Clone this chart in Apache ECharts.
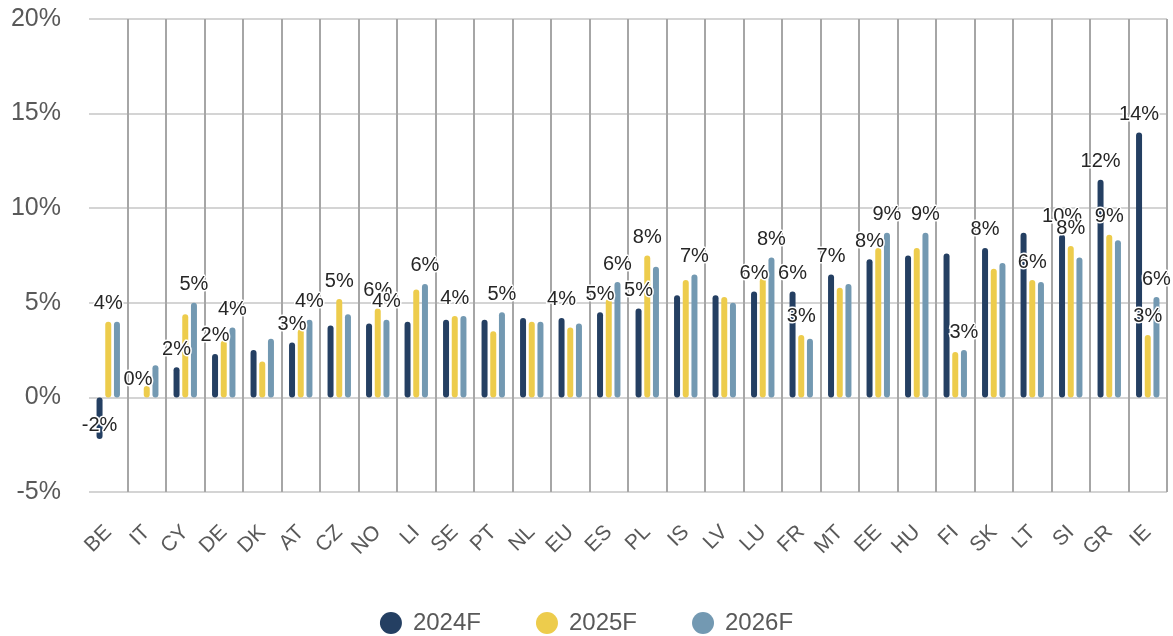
<!DOCTYPE html>
<html>
<head>
<meta charset="utf-8">
<script src="https://cdn.jsdelivr.net/npm/echarts@6/dist/echarts.min.js"></script>
<style>
  html, body { margin: 0; padding: 0; background: #fff; }
  #chart { width: 1173px; height: 636px; }
</style>
</head>
<body>
<div id="chart"></div>
<script>
	"use strict";

	/*---- data ----*/
	var countries = ['BE', 'IT', 'CY', 'DE', 'DK', 'AT', 'CZ', 'NO', 'LI', 'SE', 'PT', 'NL', 'EU', 'ES',
		'PL', 'IS', 'LV', 'LU', 'FR', 'MT', 'EE', 'HU', 'FI', 'SK', 'LT', 'SI', 'GR', 'IE'];

	var growth2024 = [-2.2, 0, 1.6, 2.3, 2.5, 2.9, 3.8, 3.9, 4.0, 4.1, 4.1, 4.2, 4.2, 4.5,
		4.7, 5.4, 5.4, 5.6, 5.6, 6.5, 7.3, 7.5, 7.6, 7.9, 8.7, 8.6, 11.5, 14.0];
	var growth2025 = [4.0, 0.6, 4.4, 3.0, 1.9, 3.6, 5.2, 4.7, 5.7, 4.3, 3.5, 4.0, 3.7, 5.2,
		7.5, 6.2, 5.3, 6.3, 3.3, 5.8, 7.9, 7.9, 2.4, 6.8, 6.2, 8.0, 8.6, 3.3];
	var growth2026 = [4.0, 1.7, 5.0, 3.7, 3.1, 4.1, 4.4, 4.1, 6.0, 4.3, 4.5, 4.0, 3.9, 6.1,
		6.9, 6.5, 5.0, 7.4, 3.1, 6.0, 8.7, 8.7, 2.5, 7.1, 6.1, 7.4, 8.3, 5.3];

	// data labels as printed on the chart ('' = not shown)
	var labels2024 = ['-2%', '0%', '2%', '2%', '', '3%', '', '', '', '', '', '', '4%', '5%',
		'5%', '', '', '6%', '6%', '7%', '8%', '', '', '8%', '', '10%', '12%', '14%'];
	var labels2025 = ['4%', '', '', '', '', '', '5%', '6%', '', '4%', '', '', '', '',
		'8%', '', '', '', '3%', '', '', '', '', '', '6%', '8%', '9%', '3%'];
	var labels2026 = ['', '', '5%', '4%', '', '4%', '', '4%', '6%', '', '5%', '', '', '6%',
		'', '7%', '', '8%', '', '', '9%', '9%', '3%', '', '', '', '', '6%'];

	var yTicks = { min: -5, max: 20, step: 5 };
	/*---- data ----*/

	function makeSeries(name, values, labels, color) {
		return {
			name: name,
			type: 'bar',
			barWidth: 6,
			barGap: '45%',
			data: values.map(function (v) {
				var item = { value: v };
				if (v < 0) {
					item.label = { position: 'insideBottom', distance: 4 };
				}
				return item;
			}),
			itemStyle: {
				color: color,
				borderRadius: 3
			},
			label: {
				show: true,
				position: 'top',
				distance: 8,
				fontFamily: 'Liberation Sans, Arial, sans-serif',
				fontSize: 20,
				color: '#262626',
				textBorderColor: '#fff',
				textBorderWidth: 3,
				formatter: function (p) {
					return labels[p.dataIndex];
				}
			}
		};
	}

	var chart = echarts.init(document.getElementById('chart'));

	var option = {
		animation: false,
		textStyle: { fontFamily: 'Liberation Sans, Arial, sans-serif' },
		grid: {
			left: 89,
			right: 6,
			top: 19,
			bottom: 144
		},
		legend: {
			top: 611,
			left: 'center',
			padding: 0,
			icon: 'circle',
			itemWidth: 22,
			itemHeight: 22,
			itemGap: 55,
			textStyle: {
				fontSize: 24,
				color: '#595959',
				padding: [0, 0, 0, 6]
			},
			data: ['2024F', '2025F', '2026F']
		},
		xAxis: {
			type: 'category',
			data: countries,
			axisLine: { show: false, onZero: false },
			axisTick: { show: false },
			axisLabel: {
				rotate: 45,
				margin: 37,
				fontSize: 21,
				color: '#595959',
				interval: 0
			},
			splitLine: {
				show: true,
				interval: function (index) { return index > 0; },
				lineStyle: { color: '#a6a6a6', width: 2 }
			}
		},
		yAxis: {
			type: 'value',
			min: yTicks.min,
			max: yTicks.max,
			interval: yTicks.step,
			axisLine: { show: false },
			axisTick: { show: false },
			axisLabel: {
				formatter: '{value}%',
				fontSize: 25,
				margin: 28,
				color: '#595959'
			},
			splitLine: {
				lineStyle: { color: '#d4d4d4', width: 2 }
			}
		},
		series: [
			makeSeries('2024F', growth2024, labels2024, '#243f62'),
			makeSeries('2025F', growth2025, labels2025, '#edcc4c'),
			makeSeries('2026F', growth2026, labels2026, '#7399b2')
		]
	};

	chart.setOption(option);
</script>
</body>
</html>
